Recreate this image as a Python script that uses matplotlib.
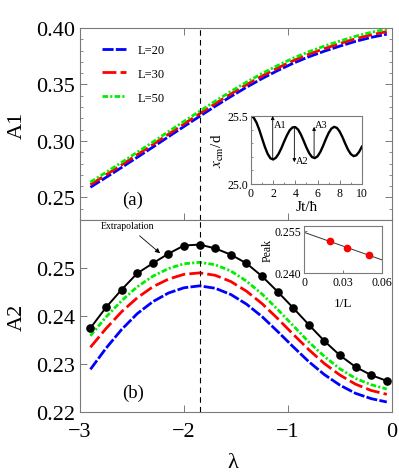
import numpy as np
import matplotlib
matplotlib.use("Agg")
import matplotlib.pyplot as plt
from matplotlib.ticker import MultipleLocator

plt.rcParams['font.family'] = ['Liberation Serif', 'DejaVu Serif']
plt.rcParams['mathtext.fontset'] = 'stix'
plt.rcParams['lines.scale_dashes'] = False

# ---------------- data ----------------
lam = [-2.9, -2.75, -2.6, -2.45, -2.3, -2.15, -2.0, -1.85, -1.7, -1.55,
       -1.4, -1.25, -1.1, -0.95, -0.8, -0.65, -0.5, -0.35, -0.2, -0.05]

A1_L20 = [0.2590, 0.2677, 0.2765, 0.2855, 0.2945, 0.3037, 0.3128, 0.3218, 0.3307, 0.3393,
          0.3475, 0.3552, 0.3623, 0.3688, 0.3745, 0.3795, 0.3840, 0.3882, 0.3917, 0.3945]
A1_L30 = [0.2613, 0.2700, 0.2788, 0.2878, 0.2968, 0.3060, 0.3151, 0.3241, 0.3330, 0.3416,
          0.3498, 0.3575, 0.3646, 0.3711, 0.3768, 0.3818, 0.3863, 0.3905, 0.3940, 0.3968]
A1_L50 = [0.2635, 0.2722, 0.2810, 0.2900, 0.2990, 0.3082, 0.3173, 0.3263, 0.3352, 0.3438,
          0.3520, 0.3597, 0.3668, 0.3733, 0.3790, 0.3840, 0.3885, 0.3927, 0.3962, 0.3990]

A2_L20 = [0.2289, 0.2333, 0.2372, 0.2405, 0.2430, 0.2448, 0.2459, 0.2463, 0.2458, 0.2445,
          0.2425, 0.2399, 0.2368, 0.2336, 0.2305, 0.2278, 0.2256, 0.2239, 0.2228, 0.2221]
A2_L30 = [0.2335, 0.2374, 0.2409, 0.2438, 0.2461, 0.2477, 0.2487, 0.2490, 0.2485, 0.2472,
          0.2452, 0.2426, 0.2395, 0.2362, 0.2330, 0.2301, 0.2277, 0.2258, 0.2245, 0.2237]
A2_L50 = [0.2359, 0.2398, 0.2432, 0.2461, 0.2483, 0.2499, 0.2509, 0.2512, 0.2507, 0.2494,
          0.2473, 0.2446, 0.2414, 0.2380, 0.2346, 0.2316, 0.2290, 0.2270, 0.2257, 0.2248]
A2_extrap = [0.2375, 0.2418, 0.2455, 0.2489, 0.2510, 0.2530, 0.2547, 0.2549, 0.2541, 0.2528,
             0.2510, 0.2483, 0.2451, 0.2417, 0.2382, 0.2348, 0.2318, 0.2294, 0.2277, 0.2265]

lam_c = -1.85

# inset (a): centre-of-mass oscillation
Jt = [0.0, 0.25, 0.5, 0.75, 1.0, 1.25, 1.5, 1.75, 2.0, 2.25, 2.5, 2.75, 3.0, 3.25,
      3.5, 3.75, 4.0, 4.25, 4.5, 4.75, 5.0, 5.25, 5.5, 5.75, 6.0, 6.25, 6.5, 6.75,
      7.0, 7.25, 7.5, 7.75, 8.0, 8.25, 8.5, 8.75, 9.0, 9.25, 9.5, 9.75, 10.0]
xcm = [25.500, 25.487, 25.451, 25.398, 25.335, 25.273, 25.222, 25.189, 25.180, 25.193,
       25.223, 25.265, 25.314, 25.359, 25.396, 25.416, 25.418, 25.400, 25.364, 25.317,
       25.268, 25.226, 25.198, 25.190, 25.203, 25.235, 25.280, 25.330, 25.375, 25.407,
       25.420, 25.412, 25.385, 25.344, 25.296, 25.252, 25.220, 25.205, 25.211, 25.236,
       25.274]

# inset (b): peak vs 1/L
invL = [1/50, 1/30, 1/20]
peak = [0.2512, 0.2490, 0.2463]

# ---------------- figure ----------------
fig = plt.figure(figsize=(3.99, 4.77), dpi=100)
ax1 = fig.add_axes([0.2005, 0.5367, 0.782, 0.4025])
ax2 = fig.add_axes([0.2005, 0.134, 0.782, 0.4025])

frame_col = '#7a7a7a'

def style(ax, fs):
    for s in ax.spines.values():
        s.set_color(frame_col)
        s.set_linewidth(0.8)
    ax.tick_params(which='both', direction='in', colors=frame_col, labelcolor='black',
                   labelsize=fs)
    ax.tick_params(which='major', length=5, width=0.7)
    ax.tick_params(which='minor', length=2.5, width=0.6)

blue_ls = (0, (8, 1.6))
red_ls = (0, (10, 3))
green_ls = (0, (4, 1.6, 1.5, 1.6))

# top panel
ax1.plot(lam, A1_L20, color='#0000ff', lw=2.0, ls=blue_ls, label='L=20')
ax1.plot(lam, A1_L30, color='#ff0000', lw=2.0, ls=red_ls, label='L=30')
ax1.plot(lam, A1_L50, color='#00ee00', lw=2.0, ls=green_ls, label='L=50')
ax1.axvline(lam_c, color='black', lw=0.8, ls=(0, (4, 3)))
ax1.set_xlim(-3, 0)
ax1.set_ylim(0.23, 0.40)
ax1.set_yticks([0.25, 0.30, 0.35, 0.40])
ax1.yaxis.set_major_formatter(plt.FormatStrFormatter('%.2f'))
ax1.yaxis.set_minor_locator(MultipleLocator(0.01))
ax1.set_xticks([-3, -2, -1, 0])
ax1.set_xticklabels([])
style(ax1, 16)
ax1.tick_params(axis='y', which='both', right=True)
ax1.tick_params(axis='x', which='both', top=True)
ax1.set_ylabel('A1', fontsize=16)
ax1.yaxis.set_label_coords(-0.17, 0.5)
ax1.text(0.17, 0.11, '(a)', transform=ax1.transAxes, fontsize=13.5, ha='center', va='center')
leg = ax1.legend(loc='upper left', bbox_to_anchor=(0.07, 0.917), frameon=False,
                 fontsize=9, handlelength=1.9, handletextpad=1.0, labelspacing=0.95,
                 borderaxespad=0, borderpad=0)

# bottom panel
ax2.plot(lam, A2_L20, color='#0000ff', lw=2.0, ls=blue_ls)
ax2.plot(lam, A2_L30, color='#ff0000', lw=2.0, ls=red_ls)
ax2.plot(lam, A2_L50, color='#00ee00', lw=2.0, ls=green_ls)
ax2.plot(lam, A2_extrap, color='black', lw=1.4, marker='o', ms=5.2)
ax2.axvline(lam_c, color='black', lw=0.8, ls=(0, (4, 3)))
ax2.set_xlim(-3, 0)
ax2.set_ylim(0.22, 0.26)
ax2.set_yticks([0.22, 0.23, 0.24, 0.25])
ax2.yaxis.set_major_formatter(plt.FormatStrFormatter('%.2f'))
ax2.set_xticks([-3, -2, -1, 0])
ax2.set_xticklabels(['\u22123', '\u22122', '\u22121', '0'])
style(ax2, 16)
ax2.tick_params(axis='x', pad=7)
ax2.set_ylabel('A2', fontsize=16)
ax2.yaxis.set_label_coords(-0.17, 0.5)
ax2.set_xlabel('\u03bb', fontsize=16)
ax2.xaxis.set_label_coords(0.49, -0.215)
ax2.text(0.17, 0.105, '(b)', transform=ax2.transAxes, fontsize=13.5, ha='center', va='center')
ax2.annotate('Extrapolation', xy=(-2.23, 0.2531), xytext=(-2.54, 0.2588),
             fontsize=7, ha='center', va='center',
             arrowprops=dict(arrowstyle='-|>', color='black', lw=0.6, mutation_scale=7,
                             shrinkA=3, shrinkB=0))

# inset (a)
ia = fig.add_axes([0.629, 0.6122, 0.278, 0.1426])
ia.plot(Jt, xcm, color='black', lw=1.7)
ia.set_xlim(0, 10)
ia.set_ylim(25.0, 25.5)
ia.set_xticks([0, 2, 4, 6, 8, 10])
ia.xaxis.set_minor_locator(MultipleLocator(1))
ia.set_yticks([25.0, 25.5])
ia.yaxis.set_major_formatter(plt.FormatStrFormatter('%.1f'))
ia.yaxis.set_minor_locator(MultipleLocator(0.1))
style(ia, 8.5)
ia.tick_params(which='major', length=3, pad=2)
ia.tick_params(which='minor', length=1.5)
ia.set_xlabel('Jt/\u0127', fontsize=11, labelpad=1)
ia.set_ylabel(r'$x_{\rm cm}$/d', fontsize=11, labelpad=1)
arr = dict(arrowstyle='-|>', color='black', lw=0.6, mutation_scale=5, shrinkA=0, shrinkB=0)
ia.annotate('', xy=(1.96, 25.5), xytext=(1.96, 25.18), arrowprops=arr)
ia.annotate('', xy=(3.91, 25.16), xytext=(3.91, 25.42), arrowprops=arr)
ia.annotate('', xy=(5.69, 25.42), xytext=(5.69, 25.19), arrowprops=arr)
ia.text(2.1, 25.44, 'A1', fontsize=7.5, ha='left', va='center')
ia.text(4.05, 25.17, 'A2', fontsize=7.5, ha='left', va='center')
ia.text(5.8, 25.44, 'A3', fontsize=7.5, ha='left', va='center')

# inset (b)
ib = fig.add_axes([0.762, 0.4256, 0.1955, 0.0985])
coef = np.polyfit(invL, peak, 1)
xx = np.array([0.0, 0.06])
ib.plot(xx, np.polyval(coef, xx), color='#333333', lw=0.7)
ib.plot(invL, peak, 'o', color='#ff0000', ms=4.5)
ib.set_xlim(0, 0.06)
ib.set_ylim(0.240, 0.2567)
ib.set_xticks([0, 0.03, 0.06])
ib.set_xticklabels(['0', '0.03', '0.06'])
ib.set_yticks([0.240, 0.255])
ib.set_yticklabels(['0.240', '0.255'])
style(ib, 8.5)
ib.tick_params(which='major', length=2.5, pad=2)
ib.set_xlabel('1/L', fontsize=9.5, labelpad=7)
ib.set_ylabel('Peak', fontsize=8.5, labelpad=1)

fig.savefig('out.png', dpi=100)
